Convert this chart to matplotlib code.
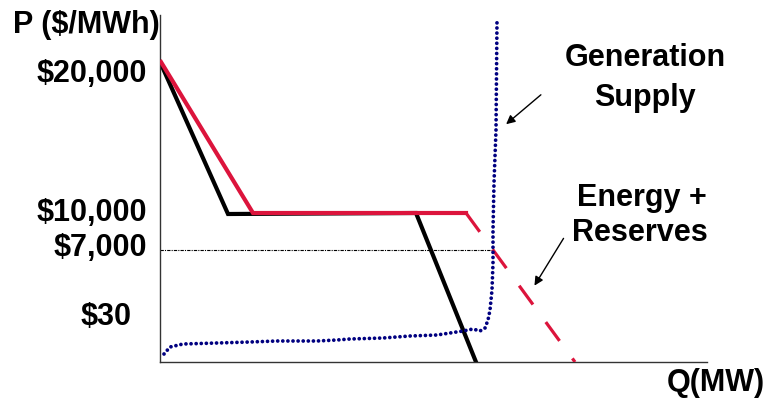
import matplotlib
matplotlib.use("Agg")
import matplotlib.pyplot as plt

plt.rcParams['font.family'] = ['Liberation Sans', 'DejaVu Sans']

# ---- data (schematic units: Q along x, P along y) ----
red_q = [1, 93, 306]
red_p = [300, 149, 149]
red_dash_q = [306, 415]
red_dash_p = [149, 0]

black_q = [1, 68, 256, 316]
black_p = [298, 148, 149, 0]

supply_q = [4, 10, 23, 57, 90, 117, 157, 177, 190, 223, 250, 277, 290, 303,
            313, 320, 325, 328, 330, 332, 333, 333, 334, 336, 337]
supply_p = [8, 15, 18, 19, 20, 21, 21, 22, 23, 24, 26, 27, 29, 31,
            33, 31, 34, 42, 52, 72, 99, 132, 179, 232, 342]

ref_price_level = 112
ref_q_end = 333

ytick_pos = [288, 149, 114, 45]
ytick_labels = ["$20,000", "$10,000", "$7,000", "$30"]

W, H = 766, 401
fig = plt.figure(figsize=(W / 100, H / 100), dpi=100)
x0, x1, ytop, ybot = 160, 707, 15, 362
ax = fig.add_axes([x0 / W, (H - ybot) / H, (x1 - x0) / W, (ybot - ytop) / H])
ax.set_xlim(0, x1 - x0)
ax.set_ylim(0, ybot - ytop)

for s in ['top', 'right']:
    ax.spines[s].set_visible(False)
for s in ['left', 'bottom']:
    ax.spines[s].set_color('#333333')
    ax.spines[s].set_linewidth(1.0)
ax.set_xticks([])
ax.set_yticks([])

red = '#DC143C'
navy = '#000080'

# reference price line
ax.plot([0, ref_q_end], [ref_price_level, ref_price_level], color='black',
        lw=0.8, linestyle=(0, (3, 1, 1, 1)), zorder=1)

# black demand curve
ax.plot(black_q, black_p, color='black', lw=3.0, solid_joinstyle='miter', zorder=2)
# red energy + reserves curve
ax.plot(red_q, red_p, color=red, lw=3.0, solid_joinstyle='miter', zorder=3)
ax.plot(red_dash_q, red_dash_p, color=red, lw=2.3, linestyle=(0, (7.3, 6.8)), zorder=3)

# generation supply (dotted)
ax.plot(supply_q, supply_p, color=navy, lw=2.7, linestyle=(0, (0.01, 1.35)),
        dash_capstyle='round', zorder=4)

# arrows
ax.annotate('', xy=(344, 236), xytext=(383, 269),
            arrowprops=dict(arrowstyle='-|>', color='black', lw=1.0, mutation_scale=13),
            annotation_clip=False)
ax.annotate('', xy=(373, 74), xytext=(405, 126),
            arrowprops=dict(arrowstyle='-|>', color='black', lw=1.0, mutation_scale=13),
            annotation_clip=False)

def px(x, y):
    return x / W, 1 - y / H

fs = 22
bold = dict(fontsize=fs, fontweight='bold', color='black')

for pos, lab in zip(ytick_pos, ytick_labels):
    yp = ybot - pos
    xr = 147 if lab != "$30" else 132
    fig.text(*px(xr, yp), lab, ha='right', va='center', **bold)

fig.text(*px(13, 25), "P ($/MWh)", ha='left', va='center', **bold)
fig.text(*px(765, 383), "Q(MW)", ha='right', va='center', **bold)
fig.text(*px(645, 58), "Generation", ha='center', va='center', **bold)
fig.text(*px(645, 98), "Supply", ha='center', va='center', **bold)
fig.text(*px(642, 198), "Energy +", ha='center', va='center', **bold)
fig.text(*px(640, 233), "Reserves", ha='center', va='center', **bold)

fig.savefig('out.png', dpi=100)
